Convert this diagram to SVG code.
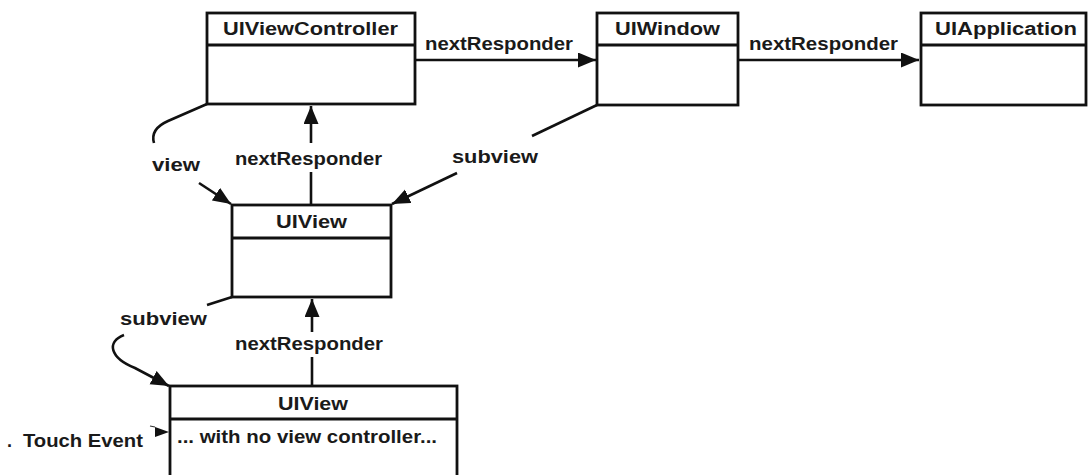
<svg xmlns="http://www.w3.org/2000/svg" width="1089" height="475" viewBox="0 0 1089 475">
<style>
.box{fill:#fff;stroke:#111;stroke-width:2.8}
.div{stroke:#111;stroke-width:2.8}
.ln{fill:none;stroke:#111;stroke-width:2.6}
text{font-family:"Liberation Sans",Arial,sans-serif;font-weight:700;font-size:18px;fill:#1a1a1a}
</style>
<defs>
<marker id="ah" markerUnits="userSpaceOnUse" markerWidth="20" markerHeight="16" refX="18" refY="7.5" orient="auto">
<path d="M0,0 L18,7.5 L0,15 z" fill="#111"/>
</marker>
</defs>
<rect width="1089" height="475" fill="#fff"/>
<g id="connectors">
<line class="ln" x1="415" y1="60" x2="596" y2="60" marker-end="url(#ah)"/>
<line class="ln" x1="738" y1="60" x2="919" y2="60" marker-end="url(#ah)"/>
<line class="ln" x1="311" y1="205" x2="311" y2="172"/>
<line class="ln" x1="311" y1="143" x2="311" y2="106" marker-end="url(#ah)"/>
<path class="ln" d="M207,104 L168,121 Q150,129 154,143"/>
<line class="ln" x1="199" y1="183" x2="231" y2="204" marker-end="url(#ah)"/>
<line class="ln" x1="597" y1="105" x2="532" y2="136"/>
<line class="ln" x1="457" y1="173" x2="392" y2="204" marker-end="url(#ah)"/>
<line class="ln" x1="232" y1="297" x2="207" y2="305"/>
<path class="ln" d="M124,335 C106,342 110,358 135,368 L169,386" marker-end="url(#ah)"/>
<line class="ln" x1="312" y1="386" x2="312" y2="357"/>
<line class="ln" x1="312" y1="332" x2="312" y2="299" marker-end="url(#ah)"/>
<polygon points="155,427 169,432 155,437" fill="#111"/>
<line x1="150" y1="426" x2="155" y2="427" stroke="#333" stroke-width="1.2"/>
</g>
<g id="uiviewcontroller">
<rect class="box" x="207" y="13" width="208" height="91"/>
<line class="div" x1="207" y1="45" x2="415" y2="45"/>
<text x="223" y="35" textLength="175" lengthAdjust="spacingAndGlyphs">UIViewController</text>
</g>
<g id="uiwindow">
<rect class="box" x="597" y="13" width="141" height="92"/>
<line class="div" x1="597" y1="45" x2="738" y2="45"/>
<text x="615" y="35" textLength="105" lengthAdjust="spacingAndGlyphs">UIWindow</text>
</g>
<g id="uiapplication">
<rect class="box" x="921" y="13" width="165" height="92"/>
<line class="div" x1="921" y1="45" x2="1086" y2="45"/>
<text x="935" y="35" textLength="142" lengthAdjust="spacingAndGlyphs">UIApplication</text>
</g>
<g id="uiview1">
<rect class="box" x="232" y="205" width="159" height="92"/>
<line class="div" x1="232" y1="238" x2="391" y2="238"/>
<text x="276" y="228" textLength="71" lengthAdjust="spacingAndGlyphs">UIView</text>
</g>
<g id="uiview2">
<rect class="box" x="170" y="386" width="287" height="100"/>
<line class="div" x1="170" y1="419" x2="457" y2="419"/>
<text x="278" y="410" textLength="70" lengthAdjust="spacingAndGlyphs">UIView</text>
<text x="177" y="443" textLength="260" lengthAdjust="spacingAndGlyphs">... with no view controller...</text>
</g>
<g id="labels">
<text x="425" y="50" textLength="148" lengthAdjust="spacingAndGlyphs">nextResponder</text>
<text x="749" y="50" textLength="149" lengthAdjust="spacingAndGlyphs">nextResponder</text>
<text x="152" y="171" textLength="48" lengthAdjust="spacingAndGlyphs">view</text>
<text x="235" y="165" textLength="147" lengthAdjust="spacingAndGlyphs">nextResponder</text>
<text x="452" y="163" textLength="86" lengthAdjust="spacingAndGlyphs">subview</text>
<text x="120" y="325" textLength="87" lengthAdjust="spacingAndGlyphs">subview</text>
<text x="235" y="350" textLength="148" lengthAdjust="spacingAndGlyphs">nextResponder</text>
<text x="7" y="447">.</text>
<text x="23" y="447" textLength="120" lengthAdjust="spacingAndGlyphs">Touch Event</text>
</g>
</svg>
